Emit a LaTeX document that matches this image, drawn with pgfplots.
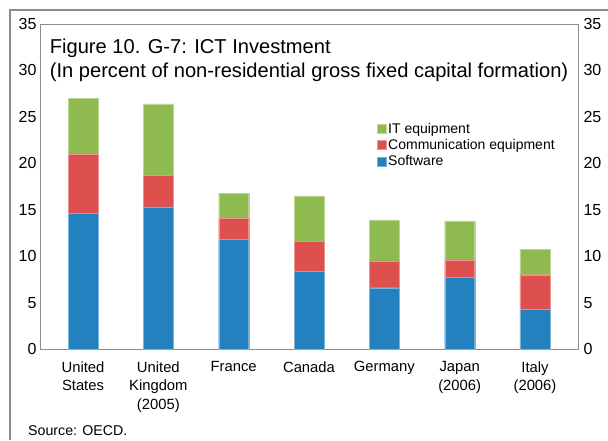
\documentclass[border=0pt]{standalone}
\usepackage{pgfplots}
\pgfplotsset{compat=1.18}
\usepackage{fontspec}
\setmainfont{Liberation Sans}

\definecolor{swblue}{HTML}{2481C0}
\definecolor{comred}{HTML}{DE504E}
\definecolor{itgreen}{HTML}{8FBA50}
\definecolor{framegray}{HTML}{8C8C8C}

\begin{document}
\begin{tikzpicture}[x=1pt,y=1pt]
% axis box south west sits at (0,0); picture is 608 x 440
\useasboundingbox (-40,-91) rectangle (568,349);
% outer frame (left and top only)
\draw[framegray, line width=1.2pt] (-30,-91) -- (-30,339) -- (568,339);

\begin{axis}[
  scale only axis, width=538pt, height=325pt,
  ybar stacked, bar width=30pt,
  xmin=-0.571, xmax=6.571, ymin=0, ymax=35,
  ytick={0,5,...,35}, ytick style={draw=none}, xtick style={draw=none},
  xtick=data,
  xticklabels={{United\\States},{United\\Kingdom\\(2005)},{France},{Canada},{Germany},{Japan\\(2006)},{Italy\\(2006)}},
  xticklabel style={align=center, font=\fontsize{14.8}{18.5}\selectfont, anchor=north, yshift=-9pt},
  yticklabel style={font=\fontsize{16}{18}\selectfont, xshift=0pt},
  /pgf/number format/assume math mode=true,
  axis line style={framegray},
  legend style={at={(rel axis cs:0.624,0.705)}, anchor=north west, draw=none, fill=none,
    font=\fontsize{14}{15}\selectfont, row sep=0.5pt, inner sep=1pt},
  legend cell align=left, reverse legend,
  legend image code/.code={\fill[#1] (0pt,-4.5pt) rectangle (9pt,4.5pt);},
]
\addplot[fill=swblue, draw=swblue!60!white, line width=0.3pt] coordinates {(0,14.6) (1,15.3) (2,11.8) (3,8.4) (4,6.6) (5,7.75) (6,4.3)};
\addplot[fill=comred, draw=comred!60!white, line width=0.3pt] coordinates {(0,6.4) (1,3.4) (2,2.3) (3,3.2) (4,2.9) (5,1.85) (6,3.7)};
\addplot[fill=itgreen, draw=itgreen!60!white, line width=0.3pt] coordinates {(0,6.0) (1,7.7) (2,2.7) (3,4.9) (4,4.4) (5,4.2) (6,2.7)};
\legend{Software,Communication equipment,IT equipment}
\node[anchor=north west, align=left, font=\fontsize{20.1}{24.5}\selectfont, inner sep=0pt]
  at (rel axis cs:0.018,0.955) {Figure 10. G-7: ICT Investment\\(In percent of non-residential gross fixed capital formation)};
\end{axis}

\begin{axis}[
  scale only axis, width=538pt, height=325pt,
  xmin=-0.571, xmax=6.571, ymin=0, ymax=35,
  axis x line=none, axis y line*=right,
  axis line style={draw=none},
  ytick={0,5,...,35}, ytick style={draw=none},
  yticklabel style={font=\fontsize{16}{18}\selectfont, xshift=2pt},
  /pgf/number format/assume math mode=true,
]
\addplot[draw=none] coordinates {(0,0)};
\end{axis}

\node[anchor=base west, font=\fontsize{14.2}{16}\selectfont, inner sep=0pt] at (-12,-86) {Source: OECD.};
\end{tikzpicture}
\end{document}
